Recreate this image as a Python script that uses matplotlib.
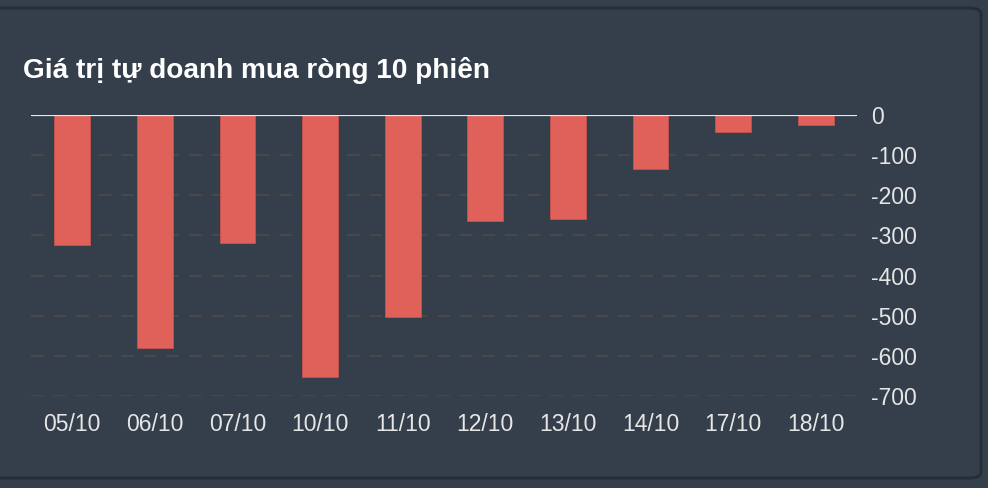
import matplotlib.pyplot as plt
from matplotlib.patches import FancyBboxPatch

plt.rcParams['font.family'] = ['Liberation Sans', 'DejaVu Sans']

# Dữ liệu: giá trị tự doanh mua ròng (tỷ đồng)
sessions = ['05/10', '06/10', '07/10', '10/10', '11/10',
            '12/10', '13/10', '14/10', '17/10', '18/10']
net_values = [-325, -580, -320, -652, -502, -265, -260, -135, -42, -24]
y_ticks = [0, -100, -200, -300, -400, -500, -600, -700]

bg = '#343f4b'
bar_color = '#e0605a'
text_color = '#e6e6e6'

fig = plt.figure(figsize=(9.88, 4.88), dpi=100)
fig.patch.set_facecolor(bg)

# khung bo góc
panel = FancyBboxPatch((-20 / 988, 10 / 488), 1001 / 988, 470 / 488,
                       boxstyle='round,pad=0,rounding_size=0.012',
                       transform=fig.transFigure, facecolor=bg,
                       edgecolor='#252e37', linewidth=2.2, zorder=-5)
fig.patches.append(panel)

ax = fig.add_axes([31 / 988, (488 - 396) / 488, 826 / 988, 281 / 488])
ax.set_zorder(2)
ax.set_facecolor('none')

x = range(len(sessions))
ax.bar(x, net_values, width=0.435, color=bar_color,
       edgecolor='#c8524d', linewidth=0.6, zorder=3)

ax.axhline(0, color='#e8e8e8', linewidth=1.6, zorder=4)
for t in y_ticks[1:]:
    ax.axhline(t, color='#4c4a46', linewidth=1.3, linestyle=(0, (7, 5.5)), zorder=1)

ax.set_xlim(-0.5, len(sessions) - 0.5)
ax.set_ylim(-700, 0)
ax.set_xticks(list(x))
ax.set_xticklabels(sessions)
ax.set_yticks(y_ticks)
ax.set_yticklabels([str(t) for t in y_ticks])
ax.yaxis.tick_right()
ax.tick_params(axis='both', length=0, colors=text_color, labelsize=16.5)
ax.tick_params(axis='x', pad=12)
ax.tick_params(axis='y', pad=10)
for s in ax.spines.values():
    s.set_visible(False)

fig.text(23 / 988, 1 - 70.5 / 488, 'Giá trị tự doanh mua ròng 10 phiên',
         fontsize=20.2, fontweight='bold', color='#ffffff', va='center', ha='left',
         zorder=3)

fig.savefig('out.png', dpi=100, facecolor=bg)
